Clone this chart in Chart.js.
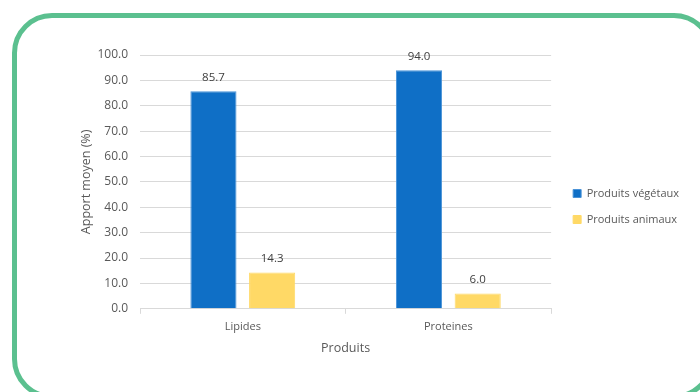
<!DOCTYPE html>
<html>
<head>
<meta charset="utf-8">
<script src="https://cdn.jsdelivr.net/npm/chart.js@4.4.1/dist/chart.umd.min.js"></script>
<style>
  html, body { margin: 0; padding: 0; background: #fff; overflow: hidden; }
  #page { position: relative; width: 700px; height: 392px; overflow: hidden; }
  #cadre {
    position: absolute; left: 12px; top: 13px;
    width: 692px; height: 376px;
    border: 5px solid #5bc08f; border-radius: 40px;
  }
  #graphe { position: absolute; left: 0; top: 0; }
</style>
</head>
<body>
<div id="page">
  <div id="cadre"></div>
  <canvas id="graphe" width="700" height="392"></canvas>
</div>
<script>
// données
const categories = ["Lipides", "Proteines"];
const vegetaux = [85.7, 94.0];
const animaux = [14.3, 6.0];
const series = ["Produits végétaux", "Produits animaux"];

const police = "'Open Sans', sans-serif";
const gris = "#595959";

// étiquettes de valeurs au-dessus des barres
const etiquettes = {
  id: "etiquettes",
  afterDatasetsDraw(chart) {
    const ctx = chart.ctx;
    ctx.save();
    ctx.font = "11.5px " + police;
    ctx.fillStyle = "#404040";
    ctx.textAlign = "center";
    ctx.textBaseline = "middle";
    chart.data.datasets.forEach((ds, i) => {
      chart.getDatasetMeta(i).data.forEach((bar, j) => {
        ctx.fillText(ds.data[j].toFixed(1), bar.x, bar.y - 14);
      });
    });
    ctx.restore();
  }
};

// écarte un peu la légende de la zone de tracé
const decalageLegende = {
  id: "decalageLegende",
  afterLayout(chart) {
    chart.legend.left += 7;
    chart.legend.right += 7;
  }
};

const ctx = document.getElementById("graphe").getContext("2d");
new Chart(ctx, {
  type: "bar",
  data: {
    labels: categories,
    datasets: [{
      label: series[0],
      data: vegetaux,
      backgroundColor: "#0f6fc6",
      borderColor: "#4a93d8",
      borderWidth: 1
    }, {
      label: series[1],
      data: animaux,
      backgroundColor: "#ffd966",
      borderColor: "#ffd966",
      borderWidth: 1
    }]
  },
  options: {
    responsive: false,
    animation: false,
    categoryPercentage: 0.571,
    barPercentage: 0.786,
    layout: { padding: { left: 79, top: 55, right: 18, bottom: 34 } },
    plugins: {
      tooltip: { enabled: false },
      legend: {
        position: "right",
        labels: {
          boxWidth: 8, boxHeight: 8, padding: 15,
          color: gris, font: { family: police, size: 11 }
        }
      }
    },
    scales: {
      x: {
        grid: { display: true, drawOnChartArea: false, tickLength: 5, color: "#d9d9d9" },
        border: { color: "#d9d9d9" },
        ticks: { color: gris, padding: 6, font: { family: police, size: 11 } },
        title: { display: true, text: "Produits", color: gris, padding: { top: 2, bottom: 2 }, font: { family: police, size: 12.5 } }
      },
      y: {
        min: 0, max: 100,
        grid: { color: "#d9d9d9", drawTicks: false },
        border: { display: false },
        ticks: { stepSize: 10, color: gris, padding: 12, font: { family: police, size: 12 }, callback: v => v.toFixed(1) },
        title: { display: true, text: "Apport moyen (%)", color: gris, padding: { top: 0, bottom: 3 }, font: { family: police, size: 12.5 } },
        afterFit: s => { s.width = 61; }
      }
    }
  },
  plugins: [etiquettes, decalageLegende]
});
</script>
</body>
</html>
